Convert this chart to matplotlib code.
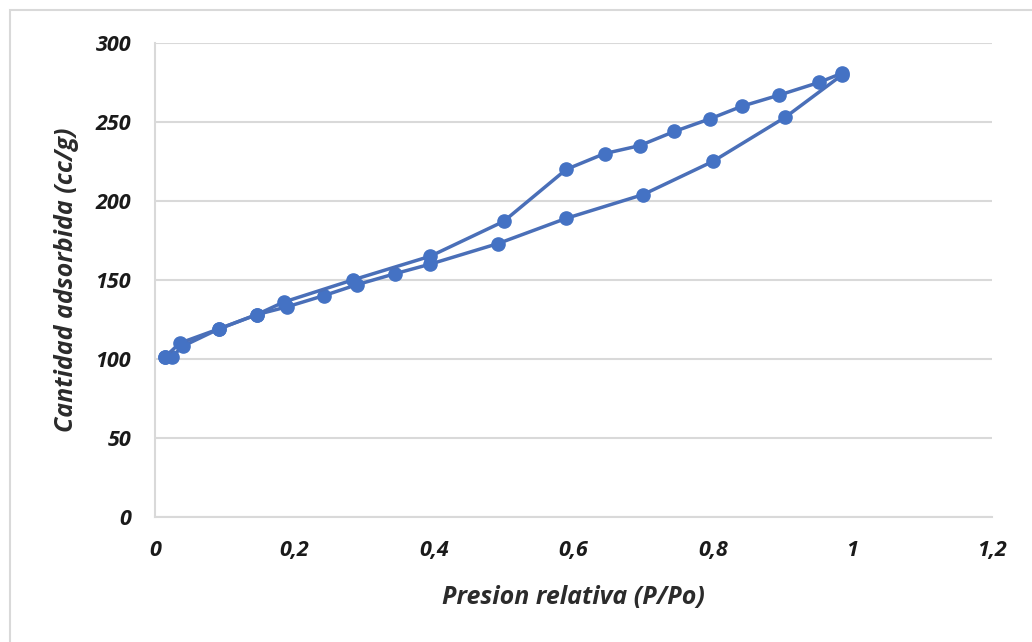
import numpy as np
import matplotlib
matplotlib.use("Agg")
import matplotlib.pyplot as plt
from matplotlib.patches import Rectangle

plt.rcParams.update({
    "font.family": ["Open Sans", "DejaVu Sans"],
    "font.size": 13,
})

# Adsorption branch (lower)
ads_p = [0.014, 0.024, 0.040, 0.092, 0.146, 0.190, 0.242, 0.290, 0.345,
         0.395, 0.492, 0.590, 0.700, 0.800, 0.904, 0.986]
ads_v = [101, 101, 108, 119, 128, 133, 140, 147, 154,
         160, 173, 189, 204, 225, 253, 280]

# Desorption branch (upper)
des_p = [0.986, 0.952, 0.895, 0.842, 0.796, 0.745, 0.695, 0.645, 0.590,
         0.500, 0.395, 0.284, 0.185, 0.146, 0.092, 0.036, 0.014]
des_v = [281, 275, 267, 260, 252, 244, 235, 230, 220,
         187, 165, 150, 136, 128, 119, 110, 101]

x_ticks = [0, 0.2, 0.4, 0.6, 0.8, 1.0, 1.2]
x_labels = ["0", "0,2", "0,4", "0,6", "0,8", "1", "1,2"]
y_ticks = [0, 50, 100, 150, 200, 250, 300]

blue = "#4472C4"
line_blue = "#4A6FB8"

fig = plt.figure(figsize=(10.32, 6.42), dpi=100)
fig.patches.append(Rectangle((10 / 1032, -0.1), 1.2, (632 / 642) + 0.1,
                             transform=fig.transFigure, fill=False,
                             edgecolor="#d9d9d9", linewidth=1.5))

ax = fig.add_axes([0.150, 0.195, 0.811, 0.738])

for px, vy in [(ads_p, ads_v), (des_p, des_v)]:
    ax.plot(px, vy, color=line_blue, linewidth=2.5, marker="o",
            markersize=9.5, markerfacecolor=blue, markeredgecolor=blue,
            zorder=3)

ax.set_xlim(0, 1.2)
ax.set_ylim(0, 300)
ax.set_xticks(x_ticks)
ax.set_xticklabels(x_labels)
ax.set_yticks(y_ticks)

ax.grid(axis="y", color="#d9d9d9", linewidth=1.5)
ax.set_axisbelow(True)
for side in ["top", "right"]:
    ax.spines[side].set_visible(False)
ax.spines["left"].set_color("#d9d9d9")
ax.spines["bottom"].set_color("#d9d9d9")
ax.spines["left"].set_linewidth(1.5)
ax.spines["bottom"].set_linewidth(1.5)

ax.tick_params(axis="both", length=0, labelsize=15.5, colors="#1a1a1a")
ax.tick_params(axis="x", pad=17)
ax.tick_params(axis="y", pad=17)
for lbl in ax.get_xticklabels() + ax.get_yticklabels():
    lbl.set_fontweight("bold")
    lbl.set_fontstyle("italic")

ax.set_xlabel("Presion relativa (P/Po)", fontsize=18, fontweight="bold",
              fontstyle="italic", color="#2b2b2b", labelpad=17)
ax.set_ylabel("Cantidad adsorbida (cc/g)", fontsize=18, fontweight="bold",
              fontstyle="italic", color="#2b2b2b", labelpad=12)

fig.savefig("out.png", dpi=100)
plt.close(fig)
